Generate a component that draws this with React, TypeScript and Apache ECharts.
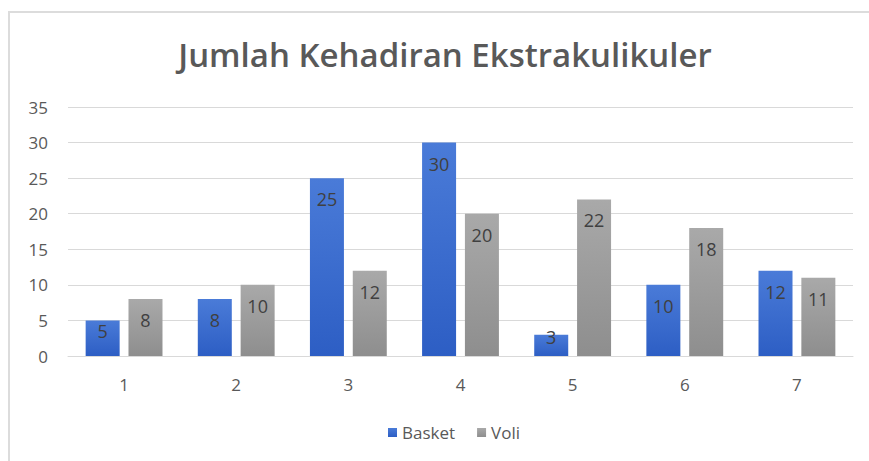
import React, { useEffect, useRef } from "react";
import * as echarts from "echarts";

const categories = ["1", "2", "3", "4", "5", "6", "7"];
const basket = [5, 8, 25, 30, 3, 10, 12];
const voli = [8, 10, 12, 20, 22, 18, 11];
const seriesNames = ["Basket", "Voli"];

export default function App() {
  const ref = useRef<HTMLDivElement>(null);
  useEffect(() => {
    if (!ref.current) return;
    const chart = echarts.init(ref.current, undefined, { renderer: "svg" });
    const font = "'Open Sans', 'Noto Sans', sans-serif";
    const label = {
      show: true,
      position: "insideTop" as const,
      distance: 12,
      color: "#404040",
      fontSize: 18,
      fontFamily: font,
    };
    // Excel shifts labels of short bars so they still fit
    const withSmallLabel = (arr: number[]) =>
      arr.map((v) =>
        v < 5
          ? { value: v, label: { position: "top" as const, distance: -11 } }
          : v < 7
          ? { value: v, label: { distance: 2 } }
          : v
      );
    chart.setOption({
      animation: false,
      backgroundColor: "#ffffff",
      title: {
        text: "Jumlah Kehadiran Ekstrakulikuler",
        left: 440,
        textAlign: "center",
        top: 33,
        textStyle: {
          color: "#595959",
          fontSize: 33,
          fontWeight: 600,
          fontFamily: font,
        },
      },
      graphic: [
        {
          type: "polyline",
          shape: { points: [[9, 461], [9, 12], [869, 12]] },
          style: { stroke: "#dcdcdc", lineWidth: 2, fill: "none" },
          silent: true,
        },
      ],
      legend: {
        data: seriesNames,
        top: 419,
        left: 383,
        itemWidth: 9,
        itemHeight: 9,
        itemGap: 22,
        icon: "rect",
        textStyle: { color: "#595959", fontSize: 17, fontFamily: font },
      },
      grid: { left: 68, right: 16, top: 107, bottom: 105 },
      xAxis: {
        type: "category",
        data: categories,
        axisLine: { lineStyle: { color: "#d9d9d9", width: 1 } },
        axisTick: { show: false },
        axisLabel: { color: "#595959", fontSize: 17, margin: 20, fontFamily: font },
      },
      yAxis: {
        type: "value",
        min: 0,
        max: 35,
        interval: 5,
        axisLine: { show: false },
        axisTick: { show: false },
        splitLine: { lineStyle: { color: "#d9d9d9", width: 1 } },
        axisLabel: { color: "#595959", fontSize: 17, margin: 20, fontFamily: font },
      },
      series: [
        {
          name: seriesNames[0],
          type: "bar",
          data: withSmallLabel(basket),
          barWidth: 34,
          barGap: "26%",
          itemStyle: {
            color: new echarts.graphic.LinearGradient(0, 0, 0, 1, [
              { offset: 0, color: "#4a7bd8" },
              { offset: 1, color: "#2d5ec4" },
            ]),
          },
          label,
        },
        {
          name: seriesNames[1],
          type: "bar",
          data: withSmallLabel(voli),
          barWidth: 34,
          itemStyle: {
            color: new echarts.graphic.LinearGradient(0, 0, 0, 1, [
              { offset: 0, color: "#a9a9a9" },
              { offset: 1, color: "#8e8e8e" },
            ]),
          },
          label,
        },
      ],
    });
    return () => chart.dispose();
  }, []);
  return <div ref={ref} style={{ width: 869, height: 461, position: "absolute", left: 0, top: 0 }} />;
}
